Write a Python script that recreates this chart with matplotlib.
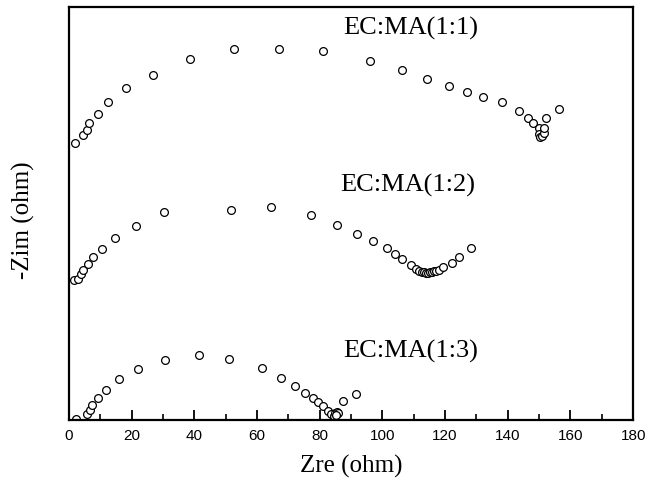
import matplotlib as mpl
mpl.use('Agg')
import matplotlib.pyplot as plt
from matplotlib.ticker import MultipleLocator

# Nyquist data, Zre / -Zim in ohm (curves shifted vertically for display)
zre_11 = [1.9, 4.6, 5.6, 6.5, 9.2, 12.6, 18.2, 26.8, 38.7, 52.7, 66.9, 81.1, 95.9,
          106.2, 114.2, 121.1, 126.9, 132.2, 138.1, 143.5, 146.3, 148.2, 149.8,
          150.1, 150.3, 150.8, 151.4, 151.6, 152.3, 156.2]
zim_11 = [88.5, 91.0, 92.8, 94.9, 97.9, 101.7, 106.1, 110.3, 115.5, 118.6, 118.5,
          117.8, 114.7, 111.9, 109.0, 106.9, 104.8, 103.2, 101.8, 98.9, 96.6, 95.1,
          93.2, 91.5, 90.4, 90.9, 91.7, 93.4, 96.6, 99.5]

zre_12 = [1.6, 3.0, 3.7, 4.6, 6.0, 7.8, 10.6, 14.8, 21.4, 30.4, 51.7, 64.3, 77.1,
          85.6, 91.8, 96.9, 101.4, 104.1, 106.2, 109.2, 110.8, 111.8, 112.6, 113.3,
          113.9, 114.6, 115.2, 115.9, 116.5, 117.2, 117.9, 119.3, 122.1, 124.3, 128.3]
zim_12 = [44.7, 45.0, 46.6, 47.9, 50.0, 52.0, 54.7, 58.1, 62.0, 66.5, 67.1, 68.2, 65.7,
          62.5, 59.6, 57.2, 54.9, 53.0, 51.4, 49.5, 48.2, 47.6, 47.3, 47.2,
          47.1, 47.1, 47.2, 47.4, 47.6, 47.8, 48.1, 48.9, 50.2, 52.1, 54.9]

zre_13 = [2.1, 5.6, 6.7, 7.4, 9.4, 11.9, 16.1, 22.0, 30.6, 41.5, 51.2, 61.5, 67.7,
          72.2, 75.3, 77.8, 79.6, 81.2, 82.8, 83.5, 84.5, 85.0, 85.5, 85.8, 85.3,
          87.4, 91.6]
zim_13 = [0.3, 1.9, 3.4, 4.8, 7.1, 9.8, 13.1, 16.3, 19.1, 20.7, 19.7, 16.7, 13.6,
          10.9, 8.7, 7.2, 5.9, 4.5, 3.0, 1.9, 1.5, 2.2, 2.6, 2.2, 1.6, 6.1, 8.3]

names = ['EC:MA(1:1)', 'EC:MA(1:2)', 'EC:MA(1:3)']
label_x = [109, 108, 109]
label_y = [125, 75, 22]

fig = plt.figure(figsize=(6.63, 4.83), dpi=100)
ax = fig.add_axes([0.104, 0.130, 0.851, 0.8555])

for xs, ys in [(zre_11, zim_11), (zre_12, zim_12), (zre_13, zim_13)]:
    ax.plot(xs, ys, 'o', mfc='white', mec='black', ms=5.6, mew=0.9, ls='none')

for name, lx, ly in zip(names, label_x, label_y):
    ax.text(lx, ly, name, ha='center', va='center', fontsize=19,
            family='Liberation Serif')

ax.set_xlim(0, 180)
ax.set_ylim(0, 132)
ax.xaxis.set_major_locator(MultipleLocator(20))
ax.xaxis.set_minor_locator(MultipleLocator(10))
ax.tick_params(axis='x', which='major', direction='in', length=7, width=1.3,
               labelsize=11, pad=6)
ax.tick_params(axis='x', which='minor', direction='in', length=4, width=1.2)
for lab in ax.get_xticklabels():
    lab.set_family('Liberation Sans')
ax.set_yticks([])
for s in ax.spines.values():
    s.set_linewidth(1.6)

ax.set_xlabel('Zre (ohm)', fontsize=18, family='Liberation Serif', labelpad=9)
ax.set_ylabel('-Zim (ohm)', fontsize=18, family='Liberation Serif')
ax.yaxis.set_label_coords(-0.06, 0.485)

fig.savefig('out.png', dpi=100)
